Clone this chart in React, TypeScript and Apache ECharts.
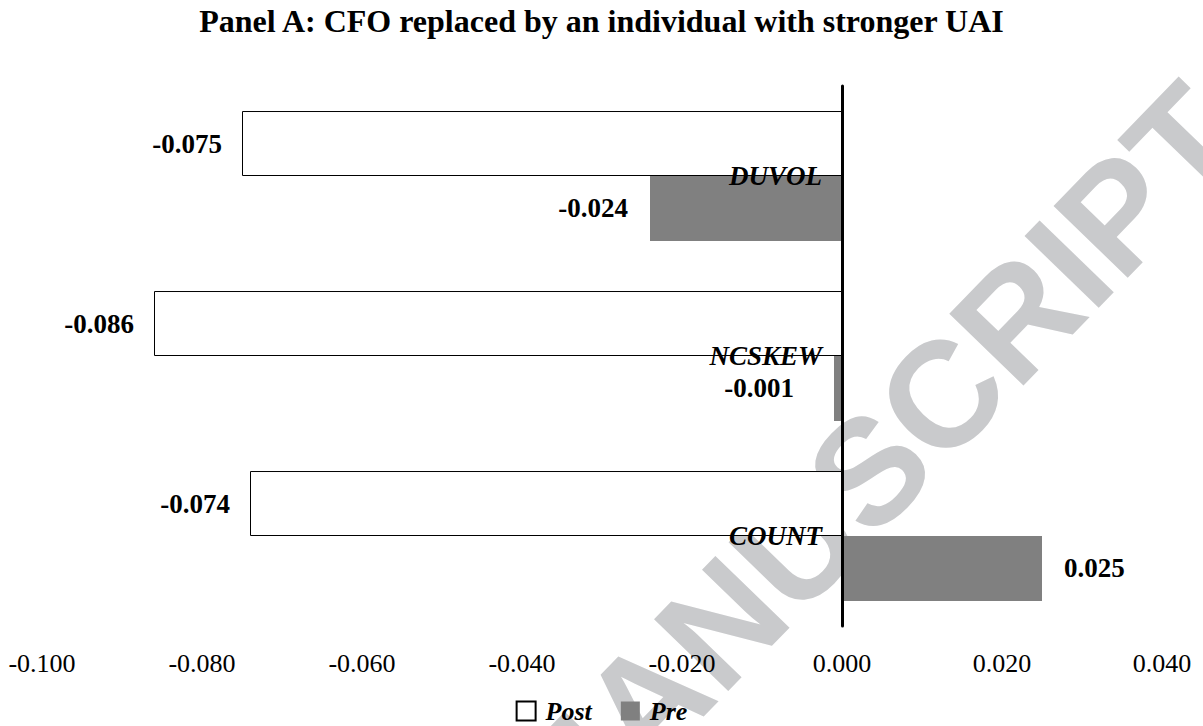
import React, { useEffect, useRef } from "react";
import * as echarts from "echarts";

const categories = ["COUNT", "NCSKEW", "DUVOL"];
const postValues = [-0.074, -0.086, -0.075];
const preValues = [0.025, -0.001, -0.024];
const xMin = -0.1;
const xMax = 0.04;
const xInterval = 0.02;
const titleText = "Panel A: CFO replaced by an individual with stronger UAI";
const watermarkText = "ACCEPTED MANUSCRIPT";

const SERIF = "'Liberation Serif', 'Times New Roman', serif";

export default function App() {
  const ref = useRef<HTMLDivElement>(null);
  useEffect(() => {
    document.body.style.margin = "0";
    if (!ref.current) return;
    const chart = echarts.init(ref.current, null, { renderer: "svg" });
    const gridLeft = 42;
    const gridRight = 41;
    const plotWidth = 1203 - gridLeft - gridRight;
    const zeroOffset = ((0 - xMin) / (xMax - xMin)) * plotWidth;
    const labelFor = (v: number, dist: number) => ({
      value: v,
      label: { position: v < 0 ? "left" : "right", distance: dist },
    });
    const labelStyle = {
      show: true,
      fontFamily: SERIF,
      fontWeight: "bold",
      fontSize: 27,
      color: "#000",
      formatter: (p: any) => Number(p.value).toFixed(3),
    };
    const wmAngle = (46 * Math.PI) / 180;
    chart.setOption({
      animation: false,
      backgroundColor: "#ffffff",
      title: {
        text: titleText,
        left: "center",
        top: 0,
        textStyle: {
          fontFamily: SERIF,
          fontWeight: "bold",
          fontSize: 32,
          color: "#000",
        },
      },
      graphic: [
        {
          type: "text",
          x: 568,
          y: 782,
          rotation: wmAngle,
          z: -10,
          silent: true,
          style: {
            text: watermarkText,
            fontFamily: "'Liberation Sans', Arial, sans-serif",
            fontWeight: "bold",
            fontSize: 150,
            fill: "#c9cacc",
            textAlign: "center",
            textVerticalAlign: "middle",
          },
        },
      ],
      legend: {
        data: ["Post", "Pre"],
        top: 693,
        left: "center",
        icon: "rect",
        itemWidth: 19,
        itemHeight: 19,
        itemGap: 29,
        selectedMode: false,
        textStyle: {
          fontFamily: SERIF,
          fontWeight: "bold",
          fontStyle: "italic",
          fontSize: 26,
          color: "#000",
          padding: [0, 0, 0, 5],
        },
      },
      grid: {
        left: gridLeft,
        right: gridRight,
        top: 86,
        bottom: 100,
        containLabel: false,
        outerBoundsMode: "none",
      },
      xAxis: {
        type: "value",
        min: xMin,
        max: xMax,
        interval: xInterval,
        axisLine: { show: false },
        axisTick: { show: false },
        splitLine: { show: false },
        axisLabel: {
          margin: 24,
          fontFamily: SERIF,
          fontSize: 26,
          color: "#000",
          formatter: (v: number) => v.toFixed(3),
        },
      },
      yAxis: {
        type: "category",
        data: categories,
        position: "left",
        offset: -zeroOffset,
        z: 10,
        axisLine: { show: true, onZero: false, lineStyle: { color: "#000", width: 3 } },
        axisTick: { show: false },
        splitLine: { show: false },
        axisLabel: {
          margin: 20,
          fontFamily: SERIF,
          fontWeight: "bold",
          fontStyle: "italic",
          fontSize: 27,
          color: "#000",
        },
      },
      series: [
        {
          name: "Post",
          type: "bar",
          barGap: "0%",
          barCategoryGap: "27.8%",
          data: postValues.map((v) => labelFor(v, 20)),
          itemStyle: { color: "#ffffff", borderColor: "#000", borderWidth: 1 },
          label: labelStyle,
        },
        {
          name: "Pre",
          type: "bar",
          barGap: "0%",
          barCategoryGap: "27.8%",
          data: preValues.map((v, i) => labelFor(v, i === 1 ? 40 : 22)),
          itemStyle: { color: "#808080" },
          label: labelStyle,
        },
      ],
    });
    return () => chart.dispose();
  }, []);
  return <div ref={ref} style={{ width: 1203, height: 726 }} />;
}
